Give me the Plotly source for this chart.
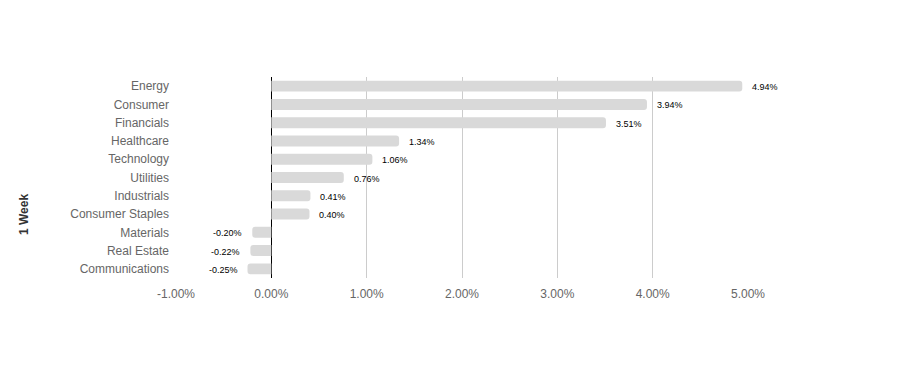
import plotly.graph_objects as go

categories = ["Energy", "Consumer", "Financials", "Healthcare", "Technology", "Utilities",
              "Industrials", "Consumer Staples", "Materials", "Real Estate", "Communications"]
values = [4.94, 3.94, 3.51, 1.34, 1.06, 0.76, 0.41, 0.40, -0.20, -0.22, -0.25]
tick_vals = [-1, 0, 1, 2, 3, 4, 5]
tick_text = ["-1.00%", "0.00%", "1.00%", "2.00%", "3.00%", "4.00%", "5.00%"]

W, H = 924, 391
L, R, T, B = 176, 176, 77, 113

fig = go.Figure(go.Bar(
    x=values, y=categories, orientation="h",
    marker=dict(color="#d9d9d9", line=dict(width=0), cornerradius=3),
    hoverinfo="x+y",
))

annotations = []
for c, v in zip(categories, values):
    annotations.append(dict(
        x=v, y=c, xref="x", yref="y", text=f"{v:.2f}%", showarrow=False,
        xanchor="left" if v >= 0 else "right", yanchor="middle",
        xshift=8 if v >= 0 else -8, yshift=-1,
        font=dict(family="Liberation Sans, Arial", size=9, color="#000000"),
    ))
annotations.append(dict(
    text="<b>1 Week</b>", textangle=-90,
    x=(24 - L) / (W - L - R), y=(H - B - 215) / (H - T - B),
    xref="paper", yref="paper", showarrow=False, xanchor="center", yanchor="middle",
    font=dict(family="Liberation Sans, Arial", size=12, color="#333333"),
))

fig.update_layout(
    width=W, height=H,
    margin=dict(l=L, r=R, t=T, b=B),
    paper_bgcolor="white", plot_bgcolor="white",
    bargap=0.40, showlegend=False,
    font=dict(family="Liberation Sans, Arial", size=12, color="#666666"),
    xaxis=dict(range=[-1, 5], tickvals=tick_vals, ticktext=tick_text,
               showgrid=True, gridcolor="#cccccc", gridwidth=1,
               zeroline=True, zerolinecolor="#000000", zerolinewidth=1,
               showline=False, ticks="", ticklabelstandoff=7,
               tickfont=dict(size=12, color="#666666")),
    yaxis=dict(categoryorder="array", categoryarray=categories[::-1],
               showgrid=False, zeroline=False, showline=False, ticks="",
               ticklabelstandoff=6, tickfont=dict(size=12, color="#666666")),
    annotations=annotations,
)
fig.write_html("out.html")
